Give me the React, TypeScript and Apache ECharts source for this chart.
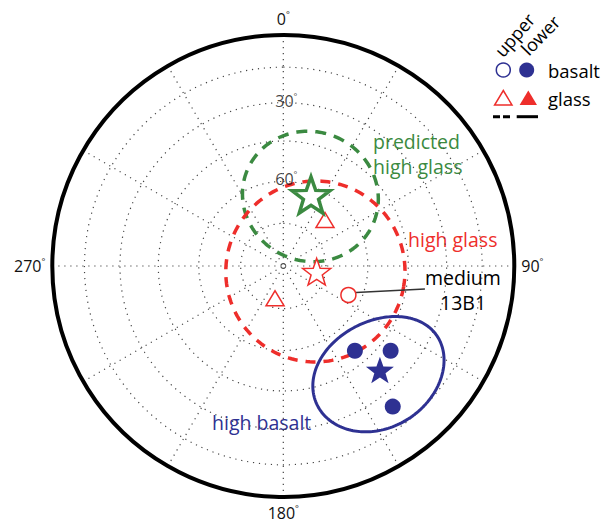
import React, { useEffect, useRef } from 'react';
import * as echarts from 'echarts';

const FONT = '"Open Sans", "Noto Sans", sans-serif';
const GREEN = '#3b8a41';
const RED = '#ee2e2b';
const BLUE = '#2e3192';

// Directions: declination (deg, clockwise from N) and inclination (deg)
const glassUpperDec = [42.2, 194.4];
const glassUpperInc = [68.1, 78.3];
const basaltLowerDec = [139.8, 128.3, 142.1];
const basaltLowerInc = [50.3, 40.5, 23.9];
const medium13B1Dec = [114.0];
const medium13B1Inc = [64.8];
const highGlassMean = [99.7, 78.1];
const predictedHighGlassMean = [21.3, 63.0];
const highBasaltMean = [137.1, 38.5];
// Confidence cones: [dec, inc, semi-angle 1, semi-angle 2, orientation]
const highGlassCone = [99.7, 78.1, 32, 32, 0];
const predictedCone = [21.3, 63.0, 23.5, 23.5, 0];
const highBasaltCone = [138.6, 36.5, 22.6, 20.3, -49.4];
// Grid
const ringInclinations = [15, 30, 45, 60, 75];
const radiusLabels = [30, 60];
const leaderDec = [110.0, 99.2];
const leaderInc = [62.6, 37.9];

const d2r = Math.PI / 180;
const eqArea = (inc: number) => Math.SQRT2 * Math.sin(((90 - inc) / 2) * d2r);
const pt = (dec: number, inc: number) => [eqArea(inc), dec];

function conePoints(c: number[]) {
  const [dec0, inc0, a1, a2, psi] = c;
  const th = (90 - inc0) * d2r;
  const D = dec0 * d2r;
  const v0 = [Math.sin(th) * Math.sin(D), Math.sin(th) * Math.cos(D), Math.cos(th)];
  const e1 = [Math.cos(th) * Math.sin(D), Math.cos(th) * Math.cos(D), -Math.sin(th)];
  const e2 = [Math.cos(D), -Math.sin(D), 0];
  const A = a1 * d2r;
  const B = a2 * d2r;
  const out: number[][] = [];
  for (let k = 0; k <= 180; k++) {
    const t = k * 2 * d2r;
    const u = t - psi * d2r;
    const rho = (A * B) / Math.sqrt((B * Math.cos(u)) ** 2 + (A * Math.sin(u)) ** 2);
    const cr = Math.cos(rho);
    const sr = Math.sin(rho);
    const p = [0, 1, 2].map((i) => cr * v0[i] + sr * (Math.cos(t) * e1[i] + Math.sin(t) * e2[i]));
    const colat = Math.acos(Math.max(-1, Math.min(1, p[2])));
    let dec = Math.atan2(p[0], p[1]) / d2r;
    if (dec < 0) dec += 360;
    out.push([Math.SQRT2 * Math.sin(colat / 2), dec]);
  }
  return out;
}

function ringPoints(inc: number) {
  const out: number[][] = [];
  for (let a = 0; a <= 360; a += 2) out.push([eqArea(inc), a]);
  return out;
}

const STAR =
  'path://M0,-10L2.35,-3.24L9.51,-3.09L3.8,1.24L5.88,8.09L0,4.2L-5.88,8.09L-3.8,1.24L-9.51,-3.09L-2.35,-3.24Z';

export default function App() {
  const ref = useRef<HTMLDivElement>(null);
  useEffect(() => {
    document.body.style.margin = '0';
    document.body.style.overflow = 'hidden';
    const chart = echarts.init(ref.current!, undefined, { renderer: 'svg' });
    const dotted = { color: '#444', width: 1.2, type: [1.2, 4.8] as any };
    const series: any[] = [];
    ringInclinations.forEach((inc) => {
      series.push({
        type: 'line', coordinateSystem: 'polar', silent: true, showSymbol: false, z: 1,
        lineStyle: dotted, data: ringPoints(inc),
      });
    });
    series.push({
      type: 'line', coordinateSystem: 'polar', silent: true, showSymbol: false, z: 3,
      lineStyle: { color: GREEN, width: 3.5, type: [11, 8] },
      data: conePoints(predictedCone),
    });
    series.push({
      type: 'line', coordinateSystem: 'polar', silent: true, showSymbol: false, z: 3,
      lineStyle: { color: RED, width: 3.5, type: [10, 8] },
      data: conePoints(highGlassCone),
    });
    series.push({
      type: 'line', coordinateSystem: 'polar', silent: true, showSymbol: false, z: 4,
      lineStyle: { color: BLUE, width: 3 },
      data: conePoints(highBasaltCone),
    });
    series.push({
      type: 'line', coordinateSystem: 'polar', silent: true, showSymbol: false, z: 4,
      lineStyle: { color: '#333', width: 1.5 },
      data: leaderDec.map((d, i) => pt(d, leaderInc[i])),
    });
    series.push({
      type: 'scatter', coordinateSystem: 'polar', z: 6, symbol: 'triangle', symbolSize: [18, 15],
      itemStyle: { color: '#fff', borderColor: RED, borderWidth: 1.5, opacity: 1 },
      data: glassUpperDec.map((d, i) => pt(d, glassUpperInc[i])),
    });
    series.push({
      type: 'scatter', coordinateSystem: 'polar', z: 6, symbol: 'circle', symbolSize: 15,
      itemStyle: { color: '#fff', borderColor: RED, borderWidth: 1.5, opacity: 1 },
      data: medium13B1Dec.map((d, i) => pt(d, medium13B1Inc[i])),
    });
    series.push({
      type: 'scatter', coordinateSystem: 'polar', z: 6, symbol: 'circle', symbolSize: 16,
      itemStyle: { color: BLUE, opacity: 1 },
      data: basaltLowerDec.map((d, i) => pt(d, basaltLowerInc[i])),
    });
    series.push({
      type: 'scatter', coordinateSystem: 'polar', z: 7, symbol: STAR, symbolSize: 38, symbolKeepAspect: true,
      itemStyle: { color: '#fff', borderColor: GREEN, borderWidth: 3.5, opacity: 1 },
      data: [pt(predictedHighGlassMean[0], predictedHighGlassMean[1])],
    });
    series.push({
      type: 'scatter', coordinateSystem: 'polar', z: 7, symbol: STAR, symbolSize: 28, symbolKeepAspect: true,
      itemStyle: { color: '#fff', borderColor: RED, borderWidth: 1.5, opacity: 1 },
      data: [pt(highGlassMean[0], highGlassMean[1])],
    });
    series.push({
      type: 'scatter', coordinateSystem: 'polar', z: 7, symbol: STAR, symbolSize: 28, symbolKeepAspect: true,
      itemStyle: { color: BLUE, opacity: 1 },
      data: [pt(highBasaltMean[0], highBasaltMean[1])],
    });
    const labelRich = {
      n: { fontSize: 16, fontFamily: FONT, color: '#111', lineHeight: 18 },
      d: { fontSize: 9, fontFamily: FONT, color: '#111', lineHeight: 9, verticalAlign: 'top' },
    };
    series.push({
      type: 'scatter', coordinateSystem: 'polar', z: 5, symbolSize: 1, silent: true,
      itemStyle: { color: 'rgba(0,0,0,0)' },
      label: {
        show: true, position: 'inside', offset: [3, -2],
        formatter: (p: any) => `{n|${radiusLabels[p.dataIndex]}}{d|°}`, rich: labelRich,
      },
      data: radiusLabels.map((v) => pt(0, v)),
    });

    const legendY1 = 70;
    const legendY2 = 98;
    const txt = (text: string, x: number, y: number, fill: string, size = 19.5, extra: any = {}) => ({
      type: 'text', x, y, ...extra,
      style: { text, fill, fontSize: size, fontFamily: FONT, verticalAlign: 'middle', align: 'left' },
    });

    chart.setOption({
      animation: false,
      polar: { center: [283.3, 266], radius: 231 },
      angleAxis: {
        type: 'value', min: 0, max: 360, interval: 30, startAngle: 90, clockwise: true,
        axisLine: { lineStyle: { color: '#000', width: 4 } },
        axisTick: { show: false },
        splitLine: { show: true, lineStyle: dotted },
        axisLabel: {
          margin: 7,
          formatter: (v: number) => (v % 90 === 0 && v < 360 ? `{n|${v}}{d|°}` : ''),
          rich: labelRich,
        },
      },
      radiusAxis: {
        type: 'value', min: 0, max: 1,
        axisLine: { show: false }, axisTick: { show: false }, axisLabel: { show: false },
        splitLine: { show: false },
      },
      graphic: [
        txt('predicted', 373, 141, GREEN),
        txt('high glass', 373, 166, GREEN),
        txt('high glass', 408, 239, RED),
        txt('medium', 425, 277, '#000'),
        txt('13B1', 440, 302, '#000'),
        txt('high basalt', 212, 422, BLUE),
        txt('upper', 498, 54, '#000', 18, { rotation: 49 * d2r }),
        txt('lower', 524, 52, '#000', 18, { rotation: 46 * d2r }),
        { type: 'circle', shape: { cx: 503.3, cy: legendY1, r: 7 }, style: { fill: '#fff', stroke: BLUE, lineWidth: 1.5 } },
        { type: 'circle', shape: { cx: 526.7, cy: legendY1, r: 7.5 }, style: { fill: BLUE } },
        txt('basalt', 548, legendY1, '#000', 18.5),
        { type: 'polygon', shape: { points: [[503.3, legendY2 - 7.5], [512, legendY2 + 7], [494.6, legendY2 + 7]] }, style: { fill: '#fff', stroke: RED, lineWidth: 1.5 } },
        { type: 'polygon', shape: { points: [[528.3, legendY2 - 7.5], [537, legendY2 + 7], [519.6, legendY2 + 7]] }, style: { fill: RED } },
        txt('glass', 548, legendY2, '#000', 18.5),
        { type: 'line', shape: { x1: 493, y1: 116.7, x2: 510, y2: 116.7 }, style: { stroke: '#000', lineWidth: 3, lineDash: [7, 3] } },
        { type: 'line', shape: { x1: 516.7, y1: 116.7, x2: 538, y2: 116.7 }, style: { stroke: '#000', lineWidth: 3 } },
      ],
      series,
    });
    return () => chart.dispose();
  }, []);
  return <div ref={ref} style={{ width: 608, height: 523 }} />;
}
